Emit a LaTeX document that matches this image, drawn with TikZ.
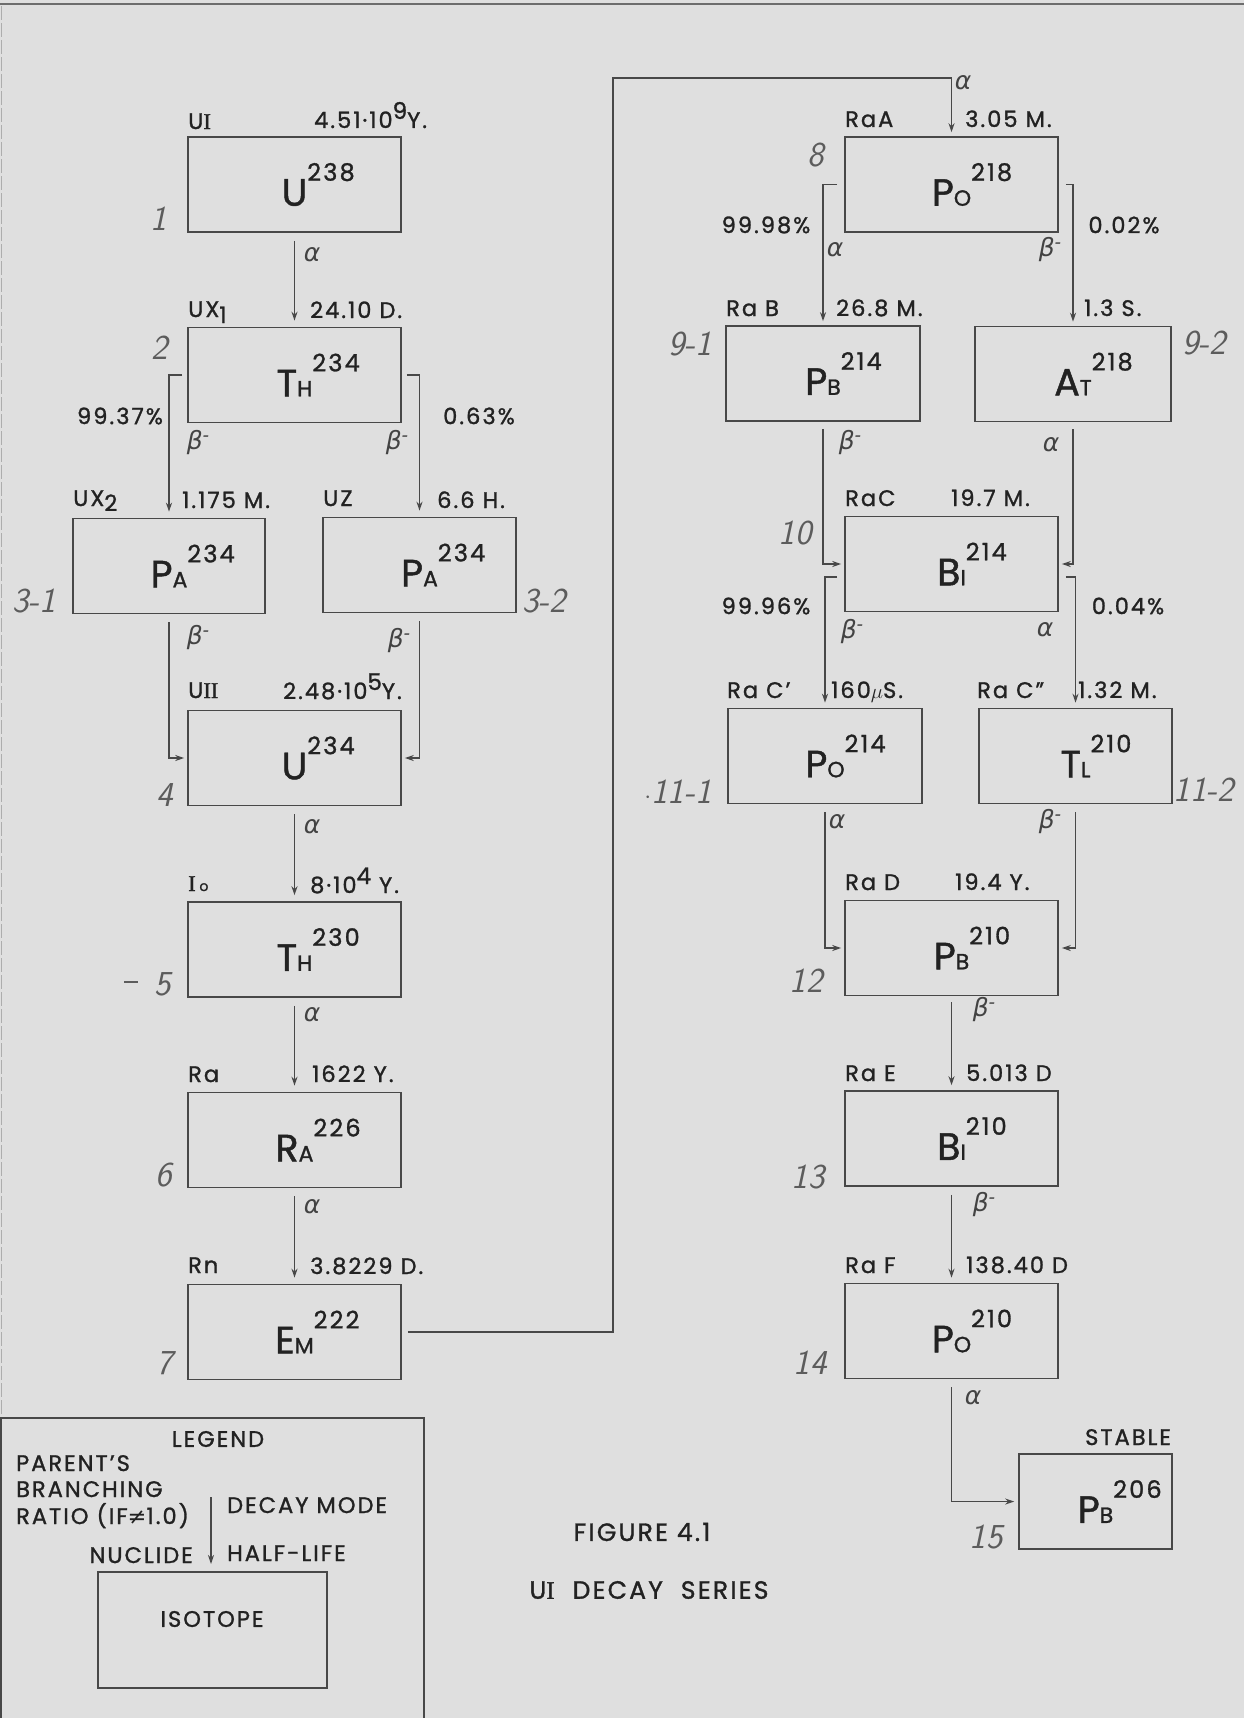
\documentclass[tikz,border=0pt]{standalone}
\usepackage{fontspec}
\setmainfont{Poppins}[LetterSpace=9, FakeBold=1.2]
\newfontfamily\symfont{DejaVu Sans}
\newfontfamily\serfont{Liberation Serif}[FakeBold=1.5]
\usetikzlibrary{arrows.meta}
\definecolor{bg}{RGB}{223,223,223}
\definecolor{ln}{RGB}{72,72,72}
\definecolor{tx}{RGB}{34,34,34}
\definecolor{hw}{RGB}{92,92,92}
\newcommand\iso[3]{{\fontsize{38}{38}\selectfont #1}{\fontsize{22}{22}\selectfont #2}\rlap{\raisebox{25pt}{\fontsize{24}{24}\selectfont #3}}}
\newcommand\RN[1]{{\serfont #1}}
\newcommand\expo[1]{\raisebox{9pt}{\fontsize{23}{23}\selectfont #1}}
\newcommand\ga{{\symfont\itshape α}}
\newcommand\gb{{\symfont\itshape β\raisebox{8pt}{\fontsize{18}{18}\selectfont -}}}
\begin{document}
\begin{tikzpicture}[x=1pt,y=-1pt,
  box/.style={draw=ln, line width=1.6pt, minimum width=#1, minimum height=95pt, inner sep=0pt, text=tx},
  box/.default=213,
  lab/.style={anchor=base west, inner sep=0pt, text=tx, font=\fontsize{22.5}{22.5}\selectfont},
  labc/.style={inner sep=0pt, text=tx, font=\fontsize{22.5}{22.5}\selectfont},
  mode/.style={inner sep=0pt, text=tx!85, font=\fontsize{25}{25}\selectfont},
  hand/.style={inner sep=0pt, text=hw, font=\fontsize{35}{35}\selectfont\sffamily\slshape},
  arr/.style={draw=ln, line width=1.4pt, -{Stealth[length=9pt,width=6pt]}},
  wire/.style={draw=ln, line width=1.4pt}]
\useasboundingbox (0,0) rectangle (1244,1718);
\fill[bg] (0,0) rectangle (1244,1718);
\draw[ln!80, line width=2.5pt] (0,4) -- (1244,4);
\draw[ln!45, line width=0.8pt, dash pattern=on 14pt off 3pt] (1.5,6) -- (1.5,1718);

% ---------- boxes ----------
\node[box] (u238) at (294.5,184.5) {\iso{U}{}{238}};
\node[box] (th234) at (294.5,375) {\iso{T}{H}{234}};
\node[box=192] (pa234a) at (169,566) {\iso{P}{A}{234}};
\node[box=193] (pa234b) at (419.5,565) {\iso{P}{A}{234}};
\node[box] (u234) at (294.5,758) {\iso{U}{}{234}};
\node[box] (th230) at (294.5,949.5) {\iso{T}{H}{230}};
\node[box] (ra226) at (294.5,1140) {\iso{R}{A}{226}};
\node[box] (em222) at (294.5,1332) {\iso{E}{M}{222}};
\node[box] (po218) at (951.5,184.5) {\iso{P}{O}{218}};
\node[box=194] (pb214) at (823,373.5) {\iso{P}{B}{214}};
\node[box=196] (at218) at (1073,374) {\iso{A}{T}{218}};
\node[box] (bi214) at (951.5,564) {\iso{B}{I}{214}};
\node[box=194] (po214) at (825,756) {\iso{P}{O}{214}};
\node[box=193] (tl210) at (1075.5,756) {\iso{T}{L}{210}};
\node[box] (pb210) at (951.5,948) {\iso{P}{B}{210}};
\node[box] (bi210) at (951.5,1138.5) {\iso{B}{I}{210}};
\node[box] (po210) at (951.5,1331) {\iso{P}{O}{210}};
\node[box=153] (pb206) at (1095.5,1501.5) {\iso{P}{B}{206}};

% ---------- connectors ----------
\draw[arr] ([yshift=-8pt]u238.south) -- ([yshift=6pt]th234.north);
\draw[arr] ([xshift=-5pt]th234.west) -| ([yshift=6pt]pa234a.north);
\draw[arr] ([xshift=5pt]th234.east) -| ([yshift=6pt]pa234b.north);
\draw[arr] ([yshift=-8pt]pa234a.south) |- ([xshift=-3pt]u234.west);
\draw[arr] ([yshift=-8pt]pa234b.south) |- ([xshift=3pt]u234.east);
\draw[arr] ([yshift=-8pt]u234.south) -- ([yshift=6pt]th230.north);
\draw[arr] ([yshift=-8pt]th230.south) -- ([yshift=6pt]ra226.north);
\draw[arr] ([yshift=-8pt]ra226.south) -- ([yshift=6pt]em222.north);
\coordinate (loopa) at (613,1332);
\coordinate (loopb) at (613,78);
\draw[arr] ([xshift=6pt]em222.east) -- (loopa) -- (loopb) -| ([yshift=4pt]po218.north);
\draw[arr] ([xshift=-7pt]po218.west) -| ([yshift=4pt]pb214.north);
\draw[arr] ([xshift=7pt]po218.east) -| ([yshift=4pt]at218.north);
\draw[arr] ([yshift=-7pt]pb214.south) |- ([xshift=-3pt]bi214.west);
\draw[arr] ([yshift=-7pt]at218.south) |- ([xshift=3pt]bi214.east);
\draw[arr] ([xshift=-7pt,yshift=-13pt]bi214.west) -| ([yshift=5pt]po214.north);
\draw[arr] ([xshift=7pt,yshift=-13pt]bi214.east) -| ([yshift=5pt]tl210.north);
\draw[arr] ([yshift=-8pt]po214.south) |- ([xshift=-3pt]pb210.west);
\draw[arr] ([yshift=-8pt]tl210.south) |- ([xshift=3pt]pb210.east);
\draw[arr] ([yshift=-6pt]pb210.south) -- ([yshift=5pt]bi210.north);
\draw[arr] ([yshift=-8pt]bi210.south) -- ([yshift=5pt]po210.north);
\draw[arr] ([yshift=-8pt]po210.south) |- ([xshift=-4pt]pb206.west);

% ---------- nuclide names ----------
\node[lab] (n1) at (188,129) {U\RN{I}};
\node[lab] (n2) at (188,317) {UX\raisebox{-6pt}{1}};
\node[lab] (n31) at (73,506) {UX\raisebox{-5pt}{2}};
\node[lab] (n32) at (323,506) {UZ};
\node[lab] (n4) at (188,698) {U\RN{II}};
\node[lab] (n5) at (188,891) {\RN{I}\,{\fontsize{14}{14}\selectfont o}};
\node[lab] (n6) at (188,1082) {Ra};
\node[lab] (n7) at (188,1273) {Rn};
\node[lab] (n8) at (845,127) {RaA};
\node[lab] (n91) at (726,316) {Ra B};
\node[lab] (n10) at (845,506) {RaC};
\node[lab] (n111) at (727,698) {Ra C'};
\node[lab] (n112) at (977,698) {Ra C''};
\node[lab] (n12) at (845,890) {Ra D};
\node[lab] (n13) at (845,1081) {Ra E};
\node[lab] (n14) at (845,1273) {Ra F};
\node[lab] (n15) at (1085,1445) {STABLE};

% ---------- half-lives ----------
\node[lab] (h1) at (314,128) {4.51·10\expo{9}Y.};
\node[lab] (h2) at (310,318) {24.10 D.};
\node[lab] (h31) at (182,508) {1.175 M.};
\node[lab] (h32) at (437,508) {6.6 H.};
\node[lab] (h4) at (283,699) {2.48·10\expo{5}Y.};
\node[lab] (h5) at (310,893) {8·10\expo{4} Y.};
\node[lab] (h6) at (312,1082) {1622 Y.};
\node[lab] (h7) at (310,1274) {3.8229 D.};
\node[lab] (h8) at (965,127) {3.05 M.};
\node[lab] (h91) at (836,316) {26.8 M.};
\node[lab] (h92) at (1084,316) {1.3 S.};
\node[lab] (h10) at (951,506) {19.7 M.};
\node[lab] (h111) at (831,698) {160$\mu$S.};
\node[lab] (h112) at (1078,698) {1.32 M.};
\node[lab] (h12) at (955,890) {19.4 Y.};
\node[lab] (h13) at (966,1081) {5.013 D};
\node[lab] (h14) at (966,1273) {138.40 D};

% ---------- branching ratios ----------
\node[labc] (p1) at (120,416) {99.37\%};
\node[labc] (p2) at (479,416) {0.63\%};
\node[labc] (p3) at (766,225) {99.98\%};
\node[labc] (p4) at (1124,225) {0.02\%};
\node[labc] (p5) at (766,606) {99.96\%};
\node[labc] (p6) at (1128,606) {0.04\%};

% ---------- decay modes ----------
\node[mode] (m1) at (312,255) {\ga};
\node[mode] (m2) at (198,443) {\gb};
\node[mode] (m3) at (397,443) {\gb};
\node[mode] (m4) at (198,638) {\gb};
\node[mode] (m5) at (399,641) {\gb};
\node[mode] (m6) at (312,827) {\ga};
\node[mode] (m7) at (312,1015) {\ga};
\node[mode] (m8) at (312,1207) {\ga};
\node[mode] (m9) at (963,83) {\ga};
\node[mode] (m10) at (835,250) {\ga};
\node[mode] (m11) at (1050,250) {\gb};
\node[mode] (m12) at (850,443) {\gb};
\node[mode] (m13) at (1051,445) {\ga};
\node[mode] (m14) at (852,632) {\gb};
\node[mode] (m15) at (1045,630) {\ga};
\node[mode] (m16) at (837,822) {\ga};
\node[mode] (m17) at (1050,822) {\gb};
\node[mode] (m18) at (984,1010) {\gb};
\node[mode] (m19) at (984,1205) {\gb};
\node[mode] (m20) at (973,1398) {\ga};

% ---------- handwritten step numbers ----------
\node[hand] (s1) at (159,219) {1};
\node[hand] (s2) at (160,348) {2};
\node[hand] (s31) at (34,601) {3-1};
\node[hand] (s32) at (544,601) {3-2};
\node[hand] (s4) at (165,795) {4};
\draw[hw, line width=2pt] (124,982) -- (138,982);
\node[hand] (s5) at (163,984) {5};
\node[hand] (s6) at (164,1175) {6};
\node[hand] (s7) at (165,1363) {7};
\node[hand] (s8) at (816,155) {8};
\node[hand] (s91) at (690,344) {9-1};
\node[hand] (s92) at (1204,343) {9-2};
\node[hand] (s10) at (795,533) {10};
\node[hand] (s111) at (678,792) {$\cdot$11-1};
\node[hand] (s112) at (1204,790) {11-2};
\node[hand] (s12) at (806,981) {12};
\node[hand] (s13) at (808,1177) {13};
\node[hand] (s14) at (810,1363) {14};
\node[hand] (s15) at (986,1537) {15};

% ---------- legend ----------
\draw[wire] (1,1718) -- (1,1418) -- (424,1418) -- (424,1718);
\node[labc] (lg) at (218,1439) {LEGEND};
\node[lab] (lg1) at (16,1471) {PARENT'S};
\node[lab] (lg2) at (16,1497) {BRANCHING};
\node[lab] (lg3) at (16,1524) {RATIO (IF{\symfont ≠}1.0)};
\coordinate (lga) at (211,1497);
\coordinate (lgb) at (211,1564);
\draw[arr] (lga) -- (lgb);
\node[lab] (lg4) at (227,1513) {DECAY MODE};
\node[anchor=base east, inner sep=0pt, text=tx, font=\fontsize{22.5}{22.5}\selectfont] (lg5) at (193,1563) {NUCLIDE};
\node[lab] (lg6) at (227,1561) {HALF-LIFE};
\node[box=229, minimum height=116pt] (isobox) at (212.5,1630) {};
\node[labc] (isotext) at (212,1619) {ISOTOPE};

% ---------- caption ----------
\node[inner sep=0pt, text=tx, font=\fontsize{25}{25}\selectfont] (fig) at (642,1532) {FIGURE 4.1};
\node[inner sep=0pt, text=tx, font=\fontsize{25}{25}\selectfont] (title) at (649,1590) {U\RN{I}\hspace{18pt}DECAY\hspace{18pt}SERIES};
\end{tikzpicture}
\end{document}
